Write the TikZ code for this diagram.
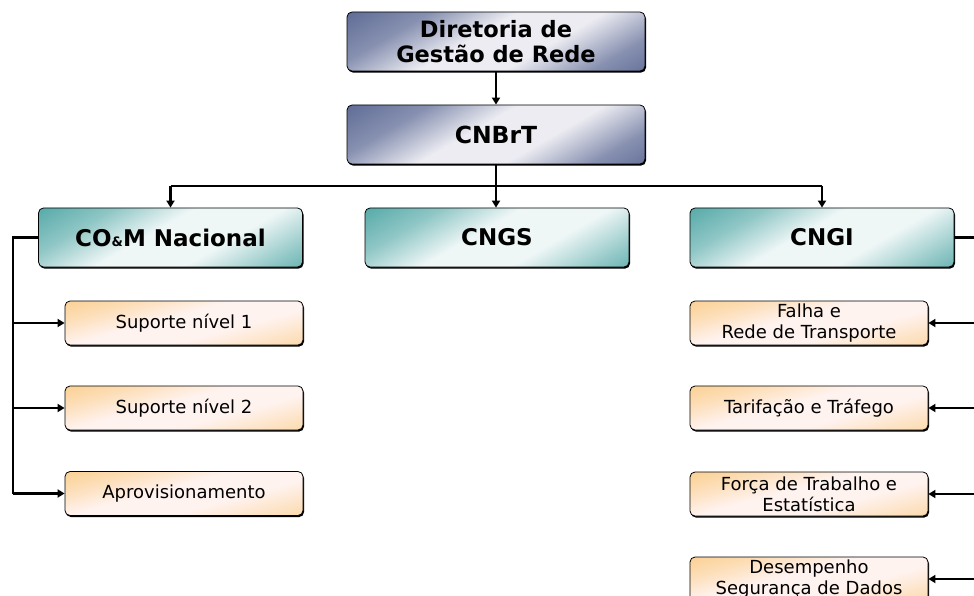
\documentclass[tikz,border=0pt]{standalone}
\usepackage{fontspec}
\setmainfont{DejaVu Sans}
\usetikzlibrary{arrows.meta}

\definecolor{slateDark}{HTML}{34457A}
\definecolor{slateLight}{HTML}{ECECF2}
\definecolor{tealDark}{HTML}{1A8C8A}
\definecolor{tealLight}{HTML}{EEF6F6}
\definecolor{peach}{HTML}{F8BC5C}
\definecolor{peachLight}{HTML}{FFF3F0}

\pgfdeclarehorizontalshading{slateglass}{100bp}{color(0bp)=(slateDark); color(30bp)=(slateDark!55!slateLight); color(45bp)=(slateLight); color(60bp)=(slateLight); color(75bp)=(slateDark!55!slateLight); color(100bp)=(slateDark)}
\pgfdeclarehorizontalshading{tealglass}{100bp}{color(0bp)=(tealDark); color(30bp)=(tealDark!45!tealLight); color(45bp)=(tealLight); color(62bp)=(tealLight); color(78bp)=(tealDark!45!tealLight); color(100bp)=(tealDark)}
\pgfdeclarehorizontalshading{peachglass}{100bp}{color(0bp)=(peach); color(30bp)=(peach!40!peachLight); color(45bp)=(peachLight); color(60bp)=(peachLight); color(78bp)=(peach!40!peachLight); color(100bp)=(peach)}

\tikzset{
  box/.style={rounded corners=5pt, draw=black, line width=0.8pt, inner sep=0pt, align=center,
    preaction={fill=black, transform canvas={shift={(1pt,-1.6pt)}}}},
  topbox/.style={box, shading=slateglass, shading angle=-60, minimum width=298pt, minimum height=59pt,
    font=\fontsize{22.5}{25}\selectfont\bfseries},
  unitbox/.style={box, shading=tealglass, shading angle=-60, minimum width=264pt, minimum height=59pt,
    font=\fontsize{23}{25}\selectfont\bfseries},
  subbox/.style={box, shading=peachglass, shading angle=-75, minimum width=238pt, minimum height=44pt,
    font=\fontsize{18}{21}\selectfont},
  link/.style={line width=2.2pt, -{Triangle[length=7pt,width=8pt]}},
  wire/.style={line width=2.2pt}
}

\begin{document}
\begin{tikzpicture}[x=1pt, y=-1pt]
  \useasboundingbox (0,0) rectangle (974,596);
  \clip (0,0) rectangle (974,596);

  % top of the hierarchy
  \node[topbox] (dir) at (496,41.5) {Diretoria de\\Gestão de Rede};
  \node[topbox, font=\fontsize{23.5}{25}\selectfont\bfseries] (cnbrt) at (496,134.5) {CNBrT};

  % the three centres
  \node[unitbox] (com) at (170.5,237.5) {CO{\fontsize{13}{13}\selectfont\&}M Nacional};
  \node[unitbox] (cngs) at (497,237.5) {CNGS};
  \node[unitbox] (cngi) at (822,237.5) {CNGI};

  % CO&M teams
  \node[subbox] (s1) at (184,323) {Suporte nível 1};
  \node[subbox] (s2) at (184,408) {Suporte nível 2};
  \node[subbox] (s3) at (184,493.5) {Aprovisionamento};

  % CNGI teams
  \node[subbox] (f1) at (809,323) {Falha e\\Rede de Transporte};
  \node[subbox] (f2) at (809,408) {Tarifação e Tráfego};
  \node[subbox] (f3) at (809,494) {Força de Trabalho e\\Estatística};
  \node[subbox] (f4) at (809,579) {Desempenho\\Segurança de Dados};

  % bus and side rails
  \coordinate (bus) at (0,186);
  \coordinate (lrail) at (13,0);
  \coordinate (rrail) at (990,0);

  \draw[link] (dir) -- (cnbrt);
  \draw[wire] (cnbrt.south) -- (cnbrt.south |- bus);
  \draw[wire] (com.north |- bus) -- (cngi.north |- bus);
  \draw[link] (com.north |- bus) -- (com.north);
  \draw[link] (cnbrt.south |- bus) -- (cnbrt.south |- cngs.north);
  \draw[link] (cngi.north |- bus) -- (cngi.north);

  \draw[wire] (com.west) -- (com.west -| lrail) -- (lrail |- s3.west);
  \draw[link] (lrail |- s1.west) -- (s1.west);
  \draw[link] (lrail |- s2.west) -- (s2.west);
  \draw[link] (lrail |- s3.west) -- (s3.west);

  \draw[wire] (cngi.east) -- (cngi.east -| rrail) -- ++(0,420);
  \draw[link] (rrail |- f1.east) -- (f1.east);
  \draw[link] (rrail |- f2.east) -- (f2.east);
  \draw[link] (rrail |- f3.east) -- (f3.east);
  \draw[link] (rrail |- f4.east) -- (f4.east);
\end{tikzpicture}
\end{document}
